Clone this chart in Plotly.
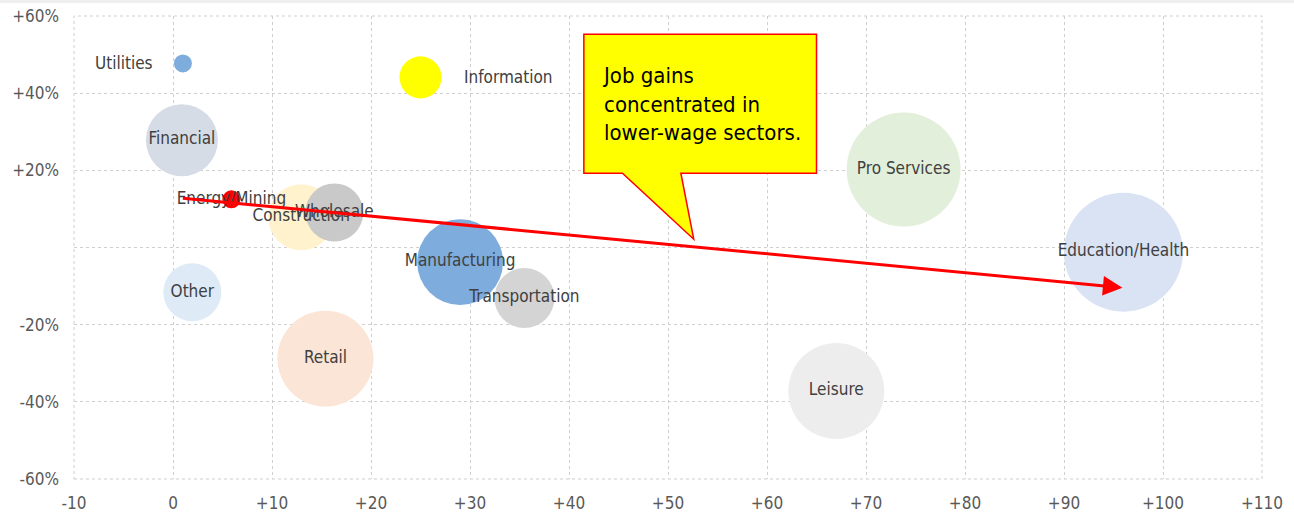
import plotly.graph_objects as go

# ---- data ----
sectors = ["Utilities", "Information", "Financial", "Energy/Mining", "Other",
           "Construction", "Wholesale", "Transportation", "Manufacturing",
           "Retail", "Leisure", "Pro Services", "Education/Health"]
job_change = [1.0, 25.0, 0.9, 5.9, 1.95, 12.95, 16.3, 35.5, 29.0, 15.4, 67.0, 73.8, 96.0]
wage_change = [47.7, 44.1, 27.8, 12.5, -11.6, 7.85, 9.1, -13.1, -3.8, -28.8, -37.2, 20.2, -1.2]
employment = [0.55, 3.0, 8.8, 0.55, 5.7, 7.4, 5.7, 6.1, 12.5, 15.6, 15.6, 22.0, 24.0]
bubble_colors = ["#7DACDD", "#FFFF00", "#D6DCE5", "#FF0000", "#DEEBF7",
                 "#FFF2CC", "#C9C9C9", "#D4D4D4", "#7DACDD",
                 "#FBE5D6", "#EDEDED", "#E2EFDA", "#DAE3F3"]
# labels drawn beside their bubble instead of centred (sector -> pixel offset)
side_labels = {"Utilities": ("right", -28), "Information": ("left", 41)}

trend_x = [0.84, 95.9]
trend_y = [12.8, -10.4]

x_ticks = [-10, 0, 10, 20, 30, 40, 50, 60, 70, 80, 90, 100, 110]
x_tick_labels = ["-10", "0", "+10", "+20", "+30", "+40", "+50", "+60",
                 "+70", "+80", "+90", "+100", "+110"]
y_ticks = [60, 40, 20, 0, -20, -40, -60]
y_tick_labels = ["+60%", "+40%", "+20%", "", "-20%", "-40%", "-60%"]

callout_text = "Job gains<br>concentrated in<br>lower-wage sectors."

FONT = "Liberation Sans Narrow, DejaVu Sans Condensed, Arial Narrow, sans-serif"
LABEL_FONT = dict(family=FONT, size=17, color="#404040")

centre_text = ["" if s in side_labels else s for s in sectors]

fig = go.Figure()
fig.add_trace(go.Scatter(
    x=job_change, y=wage_change, mode="markers+text",
    text=centre_text, textposition="middle center",
    textfont=LABEL_FONT,
    marker=dict(size=employment, sizemode="area",
                sizeref=2 * 24.0 / (119.0 ** 2), color=bubble_colors,
                opacity=1, line=dict(width=0)),
    hoverinfo="skip", showlegend=False, cliponaxis=False,
))

for s, xv, yv in zip(sectors, job_change, wage_change):
    if s in side_labels:
        anchor, shift = side_labels[s]
        fig.add_annotation(x=xv, y=yv, xref="x", yref="y", text=s,
                           showarrow=False, xanchor=anchor, yanchor="middle",
                           xshift=shift, font=LABEL_FONT)

# trend arrow
fig.add_annotation(
    x=trend_x[1], y=trend_y[1], ax=trend_x[0], ay=trend_y[0],
    xref="x", yref="y", axref="x", ayref="y",
    showarrow=True, arrowhead=2, arrowsize=1.3, arrowwidth=3,
    arrowcolor="#FF0000", standoff=0, startstandoff=0, text="",
)

# callout bubble
fig.add_shape(
    type="path", xref="x", yref="y",
    path="M 41.5,55.3 L 65.0,55.3 L 65.0,19.25 L 51.3,19.25 L 52.6,2.15 "
         "L 45.4,19.25 L 41.5,19.25 Z",
    fillcolor="#FFFF00", line=dict(color="#FF0000", width=1.5), layer="above",
)
fig.add_annotation(
    x=43.1, y=37.1, xref="x", yref="y", xanchor="left", yanchor="middle",
    align="left", showarrow=False, text=callout_text,
    font=dict(family=FONT, size=22, color="#000000"),
)

# dotted frame (gridlines at the axis ends)
fig.add_shape(type="rect", xref="paper", yref="paper", x0=0, x1=1, y0=0, y1=1,
              line=dict(color="#CFCFCF", width=1, dash="dot"),
              fillcolor="rgba(0,0,0,0)", layer="below")

# thin grey strip on top
fig.add_shape(type="rect", xref="paper", yref="paper",
              x0=-0.07, x1=1.04, y0=1.0281, y1=1.04,
              fillcolor="#EFEFEF", line=dict(width=0), layer="below")

axis_common = dict(showgrid=True, gridcolor="#CFCFCF", griddash="dot",
                   gridwidth=1, zeroline=False, showline=False, ticks="",
                   automargin=False,
                   tickfont=dict(family=FONT, size=17, color="#595959"))
fig.update_xaxes(range=[-10, 110], tickmode="array", tickvals=x_ticks,
                 ticktext=x_tick_labels, ticklabelstandoff=12, **axis_common)
fig.update_yaxes(range=[-60, 60], tickmode="array", tickvals=y_ticks,
                 ticktext=y_tick_labels, ticklabelstandoff=14, **axis_common)

fig.update_layout(
    width=1294, height=514,
    margin=dict(l=74, r=32, t=16, b=35),
    plot_bgcolor="#FFFFFF", paper_bgcolor="#FFFFFF",
    font=dict(family=FONT),
)

fig.write_html(
    "out.html",
    config={"displayModeBar": False},
    post_script="document.body.style.margin='0';document.body.style.overflow='hidden';",
)
